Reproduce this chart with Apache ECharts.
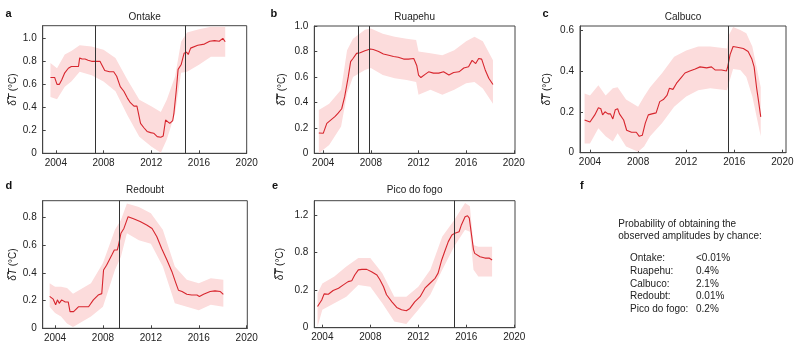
<!DOCTYPE html>
<html><head><meta charset="utf-8">
<script src="https://cdn.jsdelivr.net/npm/echarts@6/dist/echarts.min.js"></script>
<style>html,body{margin:0;padding:0;background:#fff}#c{width:800px;height:348px}</style>
</head><body><div id="c"></div>
<script>
// ---------- data ----------
const xTicks = [2004, 2008, 2012, 2016, 2020];
const xTickLabels = ['2004', '2008', '2012', '2016', '2020'];

// a: Ontake
const aTitle = 'Ontake';
const aYTicks = [0, 0.2, 0.4, 0.6, 0.8, 1.0];
const aYTickLabels = ['0', '0.2', '0.4', '0.6', '0.8', '1.0'];
const aLineX = [2003.55,2003.9,2004.1,2004.3,2004.5,2004.75,2005.05,2005.3,2005.9,2006.0,2006.2,2006.45,2006.7,2007.0,2007.7,2007.85,2008.1,2008.5,2008.85,2009.1,2009.4,2009.7,2010.0,2010.25,2010.55,2010.8,2011.1,2011.4,2011.65,2011.95,2012.2,2012.5,2012.8,2013.0,2013.2,2013.35,2013.55,2013.8,2013.9,2014.1,2014.25,2014.5,2014.75,2014.95,2015.1,2015.3,2015.9,2016.45,2016.9,2017.3,2017.7,2018.0,2018.2];
const aLineY = [0.66,0.66,0.60,0.60,0.64,0.70,0.74,0.755,0.755,0.83,0.82,0.82,0.81,0.80,0.80,0.77,0.72,0.71,0.71,0.67,0.58,0.54,0.48,0.44,0.41,0.41,0.26,0.22,0.19,0.18,0.175,0.145,0.14,0.15,0.29,0.30,0.26,0.285,0.35,0.55,0.73,0.77,0.87,0.88,0.86,0.915,0.94,0.95,0.975,0.98,0.975,1.0,0.97];
const aBandX = [2003.55,2004.1,2004.75,2005.3,2006.0,2007.0,2008.0,2009.0,2010.0,2011.0,2012.0,2012.8,2013.3,2014.0,2014.5,2015.0,2016.0,2017.0,2018.2];
const aBandLo = [0.49,0.47,0.58,0.625,0.71,0.68,0.625,0.54,0.33,0.145,0.06,0.005,0.12,0.35,0.70,0.71,0.77,0.84,0.84];
const aBandHi = [0.785,0.74,0.86,0.89,0.94,0.93,0.90,0.83,0.64,0.465,0.41,0.36,0.465,0.67,0.97,1.05,1.08,1.10,1.10];
const aEvents = [2007.3, 2014.85];

// b: Ruapehu
const bTitle = 'Ruapehu';
const bYTicks = [0, 0.2, 0.4, 0.6, 0.8, 1.0];
const bYTickLabels = ['0', '0.2', '0.4', '0.6', '0.8', '1.0'];
const bLineX = [2003.63,2004.0,2004.15,2004.3,2004.55,2005.0,2005.25,2005.55,2005.8,2006.1,2006.3,2006.5,2006.8,2007.1,2007.5,2007.95,2008.2,2008.65,2009.05,2009.5,2009.9,2010.3,2010.75,2011.15,2011.6,2011.85,2012.0,2012.2,2012.55,2012.85,2013.25,2013.7,2014.1,2014.55,2014.95,2015.4,2015.8,2016.2,2016.5,2016.8,2017.05,2017.3,2017.6,2017.9,2018.25];
const bLineY = [0.16,0.157,0.17,0.235,0.255,0.29,0.315,0.35,0.445,0.60,0.72,0.745,0.785,0.79,0.805,0.82,0.815,0.80,0.78,0.77,0.76,0.755,0.74,0.74,0.745,0.69,0.615,0.595,0.62,0.64,0.63,0.63,0.64,0.615,0.635,0.64,0.67,0.68,0.73,0.705,0.745,0.74,0.655,0.59,0.54];
const bBandX = [2003.63,2004.5,2005.5,2006.0,2006.5,2007.5,2008.0,2009.0,2010.0,2011.0,2011.8,2012.0,2013.0,2014.0,2015.0,2016.0,2016.7,2017.4,2018.25];
const bBandLo = [0.0,0.065,0.21,0.47,0.60,0.655,0.67,0.615,0.59,0.575,0.56,0.46,0.50,0.46,0.50,0.55,0.56,0.51,0.39];
const bBandHi = [0.34,0.39,0.50,0.81,0.90,0.97,0.98,0.94,0.915,0.90,0.89,0.80,0.785,0.77,0.81,0.88,0.915,0.88,0.73];
const bEvents = [2006.9, 2007.9];

// c: Calbuco
const cTitle = 'Calbuco';
const cYTicks = [0, 0.2, 0.4, 0.6];
const cYTickLabels = ['0', '0.2', '0.4', '0.6'];
const cLineX = [2003.55,2004.0,2004.15,2004.4,2004.7,2004.9,2005.05,2005.25,2005.5,2005.7,2005.9,2006.1,2006.3,2006.45,2006.8,2007.05,2007.45,2007.85,2008.1,2008.35,2008.6,2008.85,2009.15,2009.5,2009.8,2010.1,2010.4,2010.6,2010.9,2011.2,2011.55,2011.9,2012.3,2012.75,2013.15,2013.7,2014.1,2014.4,2014.95,2015.35,2015.45,2015.65,2015.9,2016.35,2016.75,2017.15,2017.45,2017.65,2017.85,2018.0,2018.2];
const cLineY = [0.16,0.15,0.147,0.185,0.22,0.215,0.185,0.20,0.19,0.19,0.165,0.21,0.215,0.19,0.16,0.11,0.10,0.10,0.08,0.085,0.145,0.185,0.19,0.195,0.25,0.26,0.28,0.315,0.31,0.34,0.365,0.39,0.40,0.41,0.42,0.415,0.42,0.405,0.405,0.40,0.42,0.48,0.52,0.515,0.51,0.495,0.46,0.42,0.32,0.26,0.175];
const cBandX = [2003.55,2004.0,2004.7,2005.3,2005.9,2006.3,2007.0,2008.0,2008.5,2009.0,2010.0,2011.0,2012.0,2013.0,2014.0,2015.4,2015.5,2015.9,2016.5,2017.0,2017.5,2018.2];
const cBandLo = [0.045,0.045,0.12,0.08,0.055,0.095,0.03,0.005,0.03,0.08,0.145,0.225,0.275,0.305,0.315,0.305,0.33,0.41,0.405,0.37,0.275,0.08];
const cBandHi = [0.29,0.28,0.33,0.28,0.315,0.32,0.26,0.225,0.275,0.32,0.39,0.47,0.50,0.52,0.52,0.51,0.57,0.615,0.60,0.585,0.52,0.32];
const cEvents = [2015.48];

// d: Redoubt
const dTitle = 'Redoubt';
const dYTicks = [0, 0.2, 0.4, 0.6, 0.8];
const dYTickLabels = ['0', '0.2', '0.4', '0.6', '0.8'];
const dLineX = [2003.55,2003.85,2004.05,2004.2,2004.35,2004.55,2004.85,2005.1,2005.25,2005.55,2005.95,2006.35,2006.8,2007.2,2007.6,2007.9,2008.05,2008.3,2008.75,2008.95,2009.2,2009.3,2009.5,2009.6,2009.75,2009.85,2010.1,2010.55,2011.1,2011.65,2012.1,2012.5,2012.9,2013.35,2013.75,2014.05,2014.3,2014.6,2015.0,2015.4,2015.85,2016.05,2016.4,2016.95,2017.35,2017.8,2018.05];
const dLineY = [0.23,0.21,0.17,0.205,0.18,0.205,0.19,0.19,0.12,0.12,0.155,0.155,0.155,0.205,0.24,0.25,0.42,0.455,0.53,0.565,0.565,0.60,0.685,0.675,0.72,0.71,0.805,0.79,0.77,0.745,0.72,0.66,0.575,0.49,0.41,0.335,0.275,0.265,0.245,0.24,0.24,0.23,0.245,0.265,0.27,0.265,0.245];
const dBandX = [2003.55,2004.0,2004.5,2005.0,2005.5,2006.0,2007.0,2008.0,2009.0,2009.5,2010.0,2011.0,2012.0,2013.0,2014.0,2015.0,2016.0,2017.0,2018.05];
const dBandLo = [0.155,0.11,0.085,0.035,0.01,0.035,0.085,0.155,0.42,0.515,0.685,0.635,0.61,0.445,0.18,0.155,0.13,0.17,0.155];
const dBandHi = [0.325,0.30,0.30,0.29,0.25,0.275,0.325,0.47,0.71,0.78,0.90,0.875,0.83,0.71,0.445,0.35,0.325,0.36,0.35];
const dEvents = [2009.32];

// e: Pico do fogo (tick labels as printed in the original)
const eTitle = 'Pico do fogo';
const eYTicks = [0, 0.4, 0.8, 1.2];
const eYTickLabels = ['0', '0.2', '0.8', '1.2'];
const eLineX = [2003.6,2003.75,2003.95,2004.15,2004.5,2004.9,2005.35,2005.75,2006.15,2006.45,2006.7,2007.0,2007.3,2007.7,2008.1,2008.55,2008.8,2009.1,2009.35,2009.8,2010.2,2010.6,2011.0,2011.3,2011.7,2012.15,2012.55,2012.95,2013.4,2013.65,2013.95,2014.2,2014.5,2014.8,2015.05,2015.4,2015.6,2015.9,2016.1,2016.25,2016.4,2016.6,2016.7,2017.15,2017.55,2017.9,2018.15];
const eLineY = [0.225,0.215,0.295,0.36,0.355,0.395,0.42,0.455,0.49,0.50,0.56,0.615,0.62,0.62,0.595,0.56,0.51,0.435,0.35,0.275,0.215,0.19,0.18,0.205,0.275,0.33,0.42,0.47,0.525,0.58,0.72,0.81,0.915,0.985,1.005,1.02,1.095,1.18,1.19,1.165,1.145,0.83,0.79,0.755,0.74,0.74,0.72];
const eBandX = [2003.6,2004.0,2005.0,2006.0,2007.0,2008.0,2009.0,2010.0,2011.0,2012.0,2013.0,2014.0,2015.0,2015.9,2016.3,2016.6,2017.0,2018.15];
const eBandLo = [0.01,0.19,0.26,0.33,0.455,0.435,0.26,0.065,0.04,0.19,0.35,0.615,0.865,1.04,1.02,0.615,0.545,0.545];
const eBandHi = [0.365,0.47,0.545,0.65,0.74,0.74,0.58,0.33,0.33,0.435,0.615,0.97,1.145,1.325,1.29,0.88,0.86,0.86];
const eEvents = [2015.0];

// f: text panel
const fHeading = ['Probability of obtaining the', 'observed amplitudes by chance:'];
const fNames = ['Ontake:', 'Ruapehu:', 'Calbuco:', 'Redoubt:', 'Pico do fogo:'];
const fValues = ['<0.01%', '0.4%', '2.1%', '0.01%', '0.2%'];

// ---------- layout / style ----------
const FONT = '"Liberation Sans", Arial, "DejaVu Sans", sans-serif';
const LINE_COLOR = '#d7262e';
const BAND_COLOR = '#fcdcdc';
const AXIS_COLOR = '#444';
const TEXT_COLOR = '#222';

const panels = [
  {letter:'a', title:aTitle, lx:aLineX, ly:aLineY, bx:aBandX, lo:aBandLo, hi:aBandHi, ev:aEvents, yt:aYTicks, yl:aYTickLabels,
   grid:{left:42.7, top:25.7, width:204, height:127.6}, xr:[2002.9, 2020.0], yr:[0, 1.11], gap:24, lp:[5.5, 14], tp:17.3},
  {letter:'b', title:bTitle, lx:bLineX, ly:bLineY, bx:bBandX, lo:bBandLo, hi:bBandHi, ev:bEvents, yt:bYTicks, yl:bYTickLabels,
   grid:{left:314.3, top:26, width:200.7, height:127.3}, xr:[2003.25, 2020.1], yr:[0, 1.0], gap:27, lp:[270.5, 14], tp:17.3},
  {letter:'c', title:cTitle, lx:cLineX, ly:cLineY, bx:cBandX, lo:cBandLo, hi:cBandHi, ev:cEvents, yt:cYTicks, yl:cYTickLabels,
   grid:{left:580, top:26, width:206, height:126.7}, xr:[2003.17, 2020.3], yr:[0, 0.62], gap:28, lp:[542.5, 14], tp:17.3},
  {letter:'d', title:dTitle, lx:dLineX, ly:dLineY, bx:dBandX, lo:dBandLo, hi:dBandHi, ev:dEvents, yt:dYTicks, yl:dYTickLabels,
   grid:{left:42.7, top:200.7, width:204.6, height:127.6}, xr:[2002.97, 2020.05], yr:[0, 0.92], gap:24, lp:[5.5, 186], tp:190.7},
  {letter:'e', title:eTitle, lx:eLineX, ly:eLineY, bx:eBandX, lo:eBandLo, hi:eBandHi, ev:eEvents, yt:eYTicks, yl:eYTickLabels,
   grid:{left:314.3, top:200.7, width:200.7, height:127}, xr:[2003.33, 2020.06], yr:[0, 1.35], gap:29, lp:[272, 186], tp:190.7}
];

const grids = [], xAxes = [], yAxes = [], series = [], graphics = [];
panels.forEach((p, i) => {
  grids.push(Object.assign({show:true, borderColor:AXIS_COLOR, borderWidth:1, backgroundColor:'transparent'}, p.grid));
  xAxes.push({
    type:'value', gridIndex:i, min:p.xr[0], max:p.xr[1],
    axisLine:{show:true, lineStyle:{color:AXIS_COLOR}},
    axisTick:{show:true, inside:true, length:3, lineStyle:{color:AXIS_COLOR}, customValues:xTicks},
    axisLabel:{customValues:xTicks, margin:5, fontSize:10, fontFamily:FONT, color:TEXT_COLOR,
      formatter: v => { const k = xTicks.findIndex(t => Math.abs(t - v) < 1e-6); return k >= 0 ? xTickLabels[k] : ''; }},
    splitLine:{show:false}
  });
  yAxes.push({
    type:'value', gridIndex:i, min:p.yr[0], max:p.yr[1],
    name:'{n|δ\u0305}{i|T\u0305}{n| (°C)}', nameLocation:'middle', nameGap:p.gap,
    nameTextStyle:{fontSize:10, fontFamily:FONT, color:TEXT_COLOR,
      rich:{n:{fontSize:10, fontFamily:FONT, color:TEXT_COLOR}, i:{fontSize:10, fontFamily:FONT, fontStyle:'italic', color:TEXT_COLOR}}},
    axisLine:{show:true, lineStyle:{color:AXIS_COLOR}},
    axisTick:{show:true, inside:true, length:3, lineStyle:{color:AXIS_COLOR}, customValues:p.yt},
    axisLabel:{customValues:p.yt, margin:6, fontSize:10, fontFamily:FONT, color:TEXT_COLOR,
      formatter: v => { const k = p.yt.findIndex(t => Math.abs(t - v) < 1e-6); return k >= 0 ? p.yl[k] : ''; }},
    splitLine:{show:false}
  });
  // confidence band: one polygon through the library's coordinate system
  series.push({
    type:'custom', xAxisIndex:i, yAxisIndex:i, silent:true, z:1, clip:true,
    data:[[p.bx[0], p.lo[0]]],
    renderItem: (params, api) => {
      const upper = p.bx.map((x, k) => api.coord([x, p.hi[k]]));
      const lower = p.bx.map((x, k) => api.coord([x, p.lo[k]])).reverse();
      return {type:'polygon', shape:{points:upper.concat(lower)}, style:{fill:BAND_COLOR, stroke:null}};
    }
  });
  series.push({
    type:'line', xAxisIndex:i, yAxisIndex:i, symbol:'none', silent:true, z:3,
    lineStyle:{color:LINE_COLOR, width:1.1},
    data:p.lx.map((x, k) => [x, p.ly[k]]),
    markLine:{silent:true, symbol:['none','none'], label:{show:false}, animation:false,
      lineStyle:{color:'#333', width:1, type:'solid'},
      data:p.ev.map(v => ({xAxis:v}))}
  });
  graphics.push({type:'text', x:p.lp[0], y:p.lp[1],
    style:{text:p.letter, font:'bold 11px ' + FONT, fill:'#111', align:'left', verticalAlign:'middle'}});
  graphics.push({type:'text', x:p.grid.left + p.grid.width / 2, y:p.tp,
    style:{text:p.title, font:'10px ' + FONT, fill:TEXT_COLOR, align:'center', verticalAlign:'middle'}});
});

graphics.push({type:'text', x:580, y:186, style:{text:'f', font:'bold 11px ' + FONT, fill:'#111', align:'left', verticalAlign:'middle'}});
fHeading.forEach((t, k) => graphics.push({type:'text', x:618.3, y:224 + k * 12.7,
  style:{text:t, font:'10px ' + FONT, fill:TEXT_COLOR, align:'left', verticalAlign:'middle'}}));
fNames.forEach((t, k) => {
  graphics.push({type:'text', x:630, y:258.7 + k * 12.65,
    style:{text:t, font:'10px ' + FONT, fill:TEXT_COLOR, align:'left', verticalAlign:'middle'}});
  graphics.push({type:'text', x:696, y:258.7 + k * 12.65,
    style:{text:fValues[k], font:'10px ' + FONT, fill:TEXT_COLOR, align:'left', verticalAlign:'middle'}});
});

const chart = echarts.init(document.getElementById('c'), null, {renderer:'canvas'});
chart.setOption({
  animation:false,
  backgroundColor:'#fff',
  grid:grids, xAxis:xAxes, yAxis:yAxes, series:series, graphic:graphics
});
</script>
</body></html>
